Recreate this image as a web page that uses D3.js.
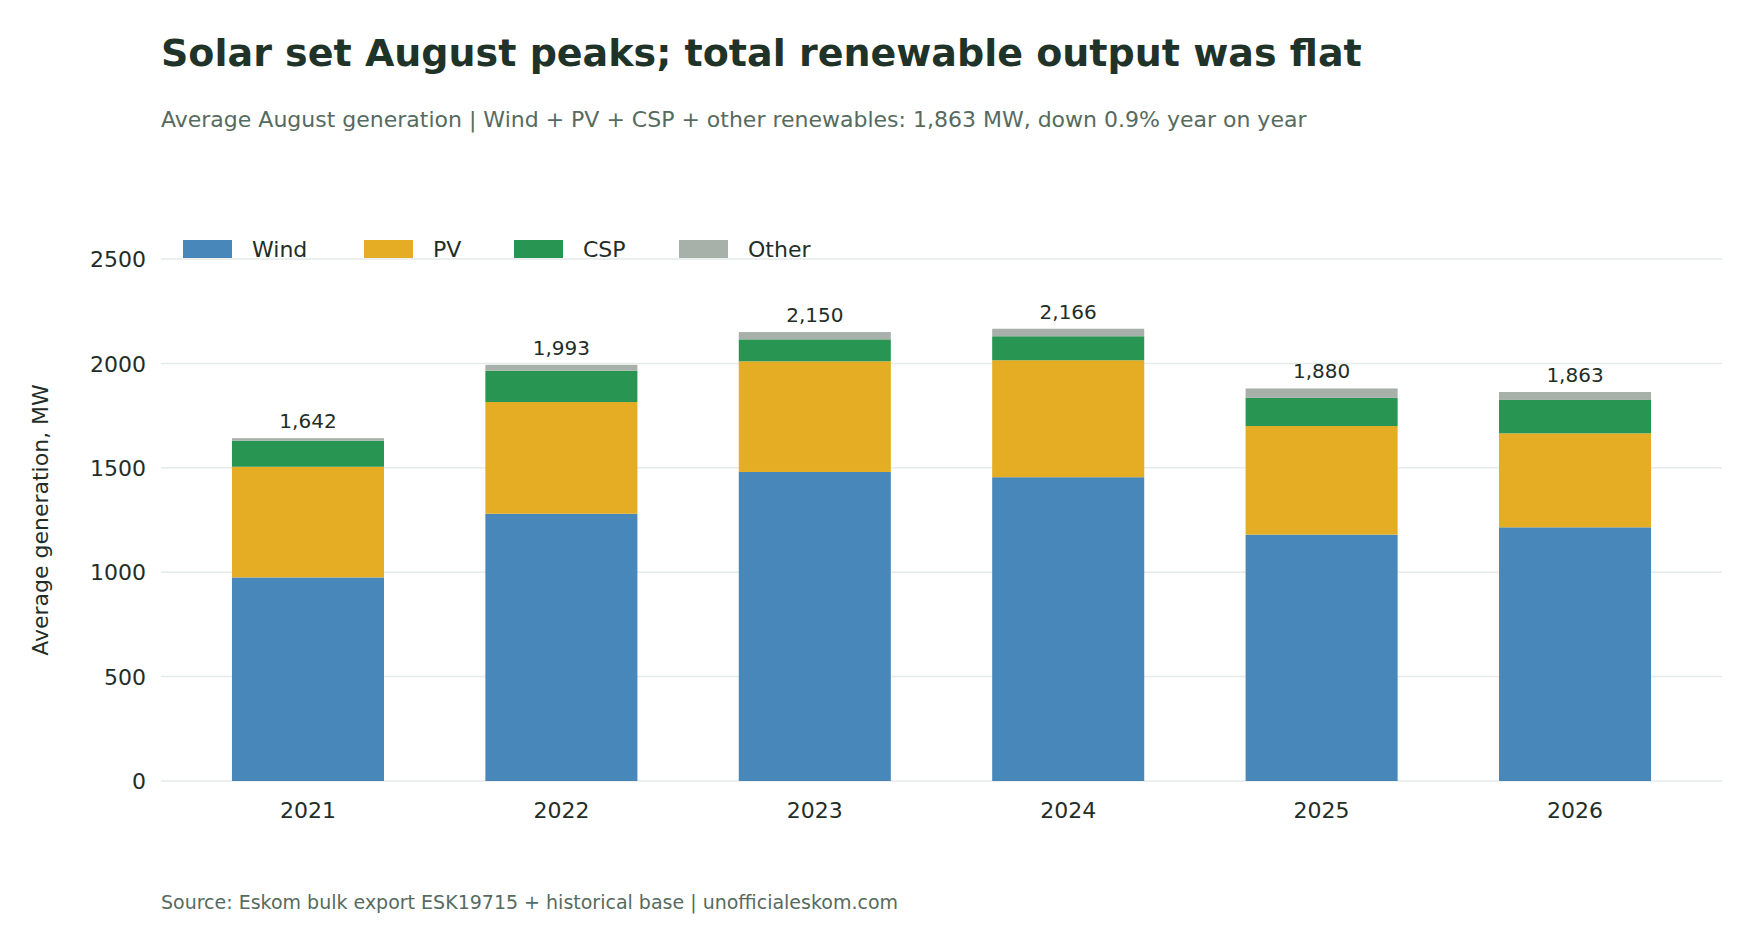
<!DOCTYPE html>
<html><head><meta charset="utf-8">
<script src="https://cdn.jsdelivr.net/npm/d3@7"></script>
<style>body{margin:0;background:#fff;font-family:"DejaVu Sans",sans-serif;}</style>
</head><body><svg id="c" width="1760" height="928"></svg>
<script>
const years=["2021","2022","2023","2024","2025","2026"];
const wind=[975,1280,1480,1455,1180,1215];
const pv=[530,535,530,560,520,450];
const csp=[125,150,105,115,135,160];
const other=[12,28,35,36,45,38];
const totals=[1642,1993,2150,2166,1880,1863];
const seriesNames=["Wind","PV","CSP","Other"];
const colors=["#4887ba","#e5ad24","#289652","#a8b0aa"];
const yTicks=[0,500,1000,1500,2000,2500];

const svg=d3.select("#c");
const L=161,R=1722,T=259,B=781;
const x=d3.scaleBand().domain(years).range([L,R]).paddingInner(0.4).paddingOuter(0.28);
const y=d3.scaleLinear().domain([0,2500]).range([B,T]);
const rows=years.map((yr,i)=>({year:yr,Wind:wind[i],PV:pv[i],CSP:csp[i],Other:other[i]}));
const stack=d3.stack().keys(seriesNames)(rows);

svg.append("g").selectAll("line").data(yTicks).join("line")
 .attr("x1",L).attr("x2",R).attr("y1",d=>y(d)).attr("y2",d=>y(d))
 .attr("stroke","#e5eaea").attr("stroke-width",1.5);

stack.forEach((s,k)=>{
 svg.append("g").selectAll("rect").data(s).join("rect")
  .attr("x",d=>x(d.data.year)).attr("width",x.bandwidth())
  .attr("y",d=>y(d[1])).attr("height",d=>y(d[0])-y(d[1])).attr("fill",colors[k]);
});

svg.append("g").selectAll("text").data(years).join("text")
 .attr("x",d=>x(d)+x.bandwidth()/2).attr("y",(d,i)=>y(totals[i])-10)
 .attr("text-anchor","middle").attr("font-size",20).attr("fill","#1f2e28")
 .text((d,i)=>d3.format(",")(totals[i]));

const ya=svg.append("g").attr("transform",`translate(${L-12},0)`)
 .call(d3.axisLeft(y).tickValues(yTicks).tickSize(0).tickFormat(d3.format("d")));
ya.select(".domain").remove();
ya.selectAll("text").attr("font-size",22).attr("fill","#1f2e28").attr("font-family","DejaVu Sans").attr("dy","0.35em");

const xa=svg.append("g").attr("transform",`translate(0,${B+12})`)
 .call(d3.axisBottom(x).tickSize(0));
xa.select(".domain").remove();
xa.selectAll("text").attr("font-size",22).attr("fill","#1f2e28").attr("font-family","DejaVu Sans").attr("dy","1em");

svg.append("text").attr("transform",`translate(48,${(T+B)/2}) rotate(-90)`)
 .attr("text-anchor","middle").attr("font-size",22).attr("fill","#1f2e28").text("Average generation, MW");

const lg=svg.append("g");
const lx=[183,364,514,679];
seriesNames.forEach((n,i)=>{
 lg.append("rect").attr("x",lx[i]).attr("y",240).attr("width",49).attr("height",18).attr("fill",colors[i]);
 lg.append("text").attr("x",lx[i]+69).attr("y",257).attr("font-size",22).attr("fill","#1f2e28").text(n);
});

svg.append("text").attr("x",161).attr("y",66).attr("font-size",38).attr("font-weight","bold").attr("fill","#1f3329")
 .text("Solar set August peaks; total renewable output was flat");
svg.append("text").attr("x",161).attr("y",127).attr("font-size",22).attr("fill","#566b60")
 .text("Average August generation  |  Wind + PV + CSP + other renewables: 1,863 MW, down 0.9% year on year");
svg.append("text").attr("x",161).attr("y",909).attr("font-size",19).attr("fill","#566b60")
 .text("Source: Eskom bulk export ESK19715 + historical base  |  unofficialeskom.com");
</script></body></html>
